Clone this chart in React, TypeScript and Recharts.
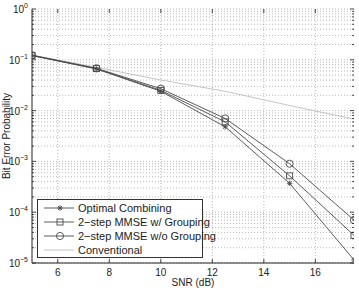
import React from 'react';
import { LineChart, Line, XAxis, YAxis, CartesianGrid } from 'recharts';

const snr = [5, 7.5, 10, 12.5, 15, 17.5];
const optimal = [0.121, 0.066, 0.024, 0.0048, 0.00037, 0.0000115];
const mmseGrouping = [0.122, 0.067, 0.025, 0.006, 0.00052, 0.000035];
const mmseNoGrouping = [0.123, 0.068, 0.027, 0.007, 0.0009, 0.00007];
const conventional = [0.124, 0.071, 0.04, 0.024, 0.0126, 0.0068];

const xTicks = [6, 8, 10, 12, 14, 16];
const decades = [-5, -4, -3, -2, -1, 0];

const data = snr.map((s, i) => ({
    snr: s,
    optimal: optimal[i],
    mmseGrouping: mmseGrouping[i],
    mmseNoGrouping: mmseNoGrouping[i],
    conventional: conventional[i],
}));

// all log grid values (1..9 per decade)
const yGrid: number[] = [];
decades.forEach(d => {
    for (let m = 1; m <= 9; m++) {
        if (d === 0 && m > 1) break;
        yGrid.push(m * Math.pow(10, d));
    }
});

const W = 359;
const H = 288;
const PLOT = { left: 32, top: 9, right: 354, bottom: 263 };
const FONT = '"Liberation Sans", Arial, sans-serif';
const DARK = '#4a4a4a';
const LIGHT = '#bdbdbd';

const Star = ({ cx, cy }: any) => (
    <g stroke={DARK} strokeWidth={0.9}>
        <line x1={cx - 2.8} y1={cy} x2={cx + 2.8} y2={cy} />
        <line x1={cx} y1={cy - 2.8} x2={cx} y2={cy + 2.8} />
        <line x1={cx - 2} y1={cy - 2} x2={cx + 2} y2={cy + 2} />
        <line x1={cx - 2} y1={cy + 2} x2={cx + 2} y2={cy - 2} />
    </g>
);

const Square = ({ cx, cy }: any) => (
    <rect x={cx - 3} y={cy - 3} width={6} height={6} fill="none" stroke={DARK} strokeWidth={0.9} />
);

const Circle = ({ cx, cy }: any) => (
    <circle cx={cx} cy={cy} r={3.6} fill="none" stroke={DARK} strokeWidth={0.9} />
);

const YTick = ({ y, payload }: any) => {
    const v = payload.value;
    const exp = Math.round(Math.log10(v));
    const major = Math.abs(Math.log10(v) - exp) < 1e-9;
    const len = major ? 4 : 2;
    return (
        <g>
            <line x1={PLOT.left} y1={y} x2={PLOT.left + len} y2={y} stroke="#222" strokeWidth={0.8} />
            <line x1={PLOT.right} y1={y} x2={PLOT.right - len} y2={y} stroke="#222" strokeWidth={0.8} />
            {major && (
                <text x={PLOT.left - 4} y={y + 4} textAnchor="end" fontSize={10} fontFamily={FONT} fill="#222">
                    10
                    <tspan dy={-5} fontSize={7}>{exp === 0 ? '0' : '\u2212' + Math.abs(exp)}</tspan>
                </text>
            )}
        </g>
    );
};

const XTick = ({ x, payload }: any) => (
    <g>
        <line x1={x} y1={PLOT.bottom} x2={x} y2={PLOT.bottom - 4} stroke="#222" strokeWidth={0.8} />
        <line x1={x} y1={PLOT.top} x2={x} y2={PLOT.top + 4} stroke="#222" strokeWidth={0.8} />
        <text x={x} y={PLOT.bottom + 13} textAnchor="middle" fontSize={10} fontFamily={FONT} fill="#222">
            {payload.value}
        </text>
    </g>
);

const legendItems = [
    { label: 'Optimal Combining', color: DARK, Marker: Star },
    { label: '2\u2212step MMSE w/ Grouping', color: DARK, Marker: Square },
    { label: '2\u2212step MMSE w/o Grouping', color: DARK, Marker: Circle },
    { label: 'Conventional', color: LIGHT, Marker: null as any },
];

const LegendBox = () => (
    <div
        style={{
            position: 'absolute',
            left: 37,
            top: 199,
            width: 166,
            height: 59,
            border: '1px solid #333',
            background: '#fff',
            boxSizing: 'border-box',
            paddingTop: 1,
        }}
    >
        {legendItems.map(item => (
            <div key={item.label} style={{ display: 'flex', alignItems: 'center', height: 14 }}>
                <svg width={40} height={12} style={{ flexShrink: 0 }}>
                    <line x1={6} y1={6} x2={36} y2={6} stroke={item.color} strokeWidth={0.9} />
                    {item.Marker && <item.Marker cx={22} cy={6} />}
                </svg>
                <span style={{ fontFamily: FONT, fontSize: 11, color: '#222', whiteSpace: 'nowrap' }}>
                    {item.label}
                </span>
            </div>
        ))}
    </div>
);

export default function App() {
    return (
        <div style={{ position: 'absolute', left: 0, top: 0, width: W, height: H, background: '#fff' }}>
            <LineChart
                width={W}
                height={H}
                data={data}
                margin={{ top: PLOT.top, right: W - PLOT.right, bottom: 0, left: 0 }}
            >
                <CartesianGrid
                    stroke="#8a8a8a"
                    strokeWidth={0.6}
                    strokeDasharray="1 2"
                    horizontalValues={yGrid}
                    verticalValues={xTicks}
                />
                <XAxis
                    dataKey="snr"
                    type="number"
                    domain={[5, 17.5]}
                    ticks={xTicks}
                    tickLine={false}
                    axisLine={{ stroke: '#222' }}
                    tick={<XTick />}
                    height={H - PLOT.bottom}
                    label={{ value: 'SNR (dB)', position: 'insideBottom', offset: 2, fontSize: 10, fontFamily: FONT, fill: '#222' }}
                    allowDataOverflow
                />
                <XAxis xAxisId="top" orientation="top" type="number" domain={[5, 17.5]} tick={false} tickLine={false} axisLine={{ stroke: '#222' }} height={0} />
                <YAxis
                    scale="log"
                    type="number"
                    domain={[1e-5, 1]}
                    ticks={yGrid}
                    interval={0}
                    tickLine={false}
                    axisLine={{ stroke: '#222' }}
                    tick={<YTick />}
                    width={PLOT.left}
                    allowDataOverflow
                    label={{ value: 'Bit Error Probability', angle: -90, position: 'insideLeft', offset: 6, style: { textAnchor: 'middle' }, fontSize: 10, fontFamily: FONT, fill: '#222' }}
                />
                <YAxis yAxisId="right" orientation="right" tick={false} tickLine={false} axisLine={{ stroke: '#222' }} width={0} />
                <Line dataKey="conventional" stroke={LIGHT} strokeWidth={0.9} dot={false} isAnimationActive={false} />
                <Line dataKey="mmseNoGrouping" stroke={DARK} strokeWidth={0.9} dot={<Circle />} isAnimationActive={false} />
                <Line dataKey="mmseGrouping" stroke={DARK} strokeWidth={0.9} dot={<Square />} isAnimationActive={false} />
                <Line dataKey="optimal" stroke={DARK} strokeWidth={0.9} dot={<Star />} isAnimationActive={false} />
            </LineChart>
            <LegendBox />
        </div>
    );
}
